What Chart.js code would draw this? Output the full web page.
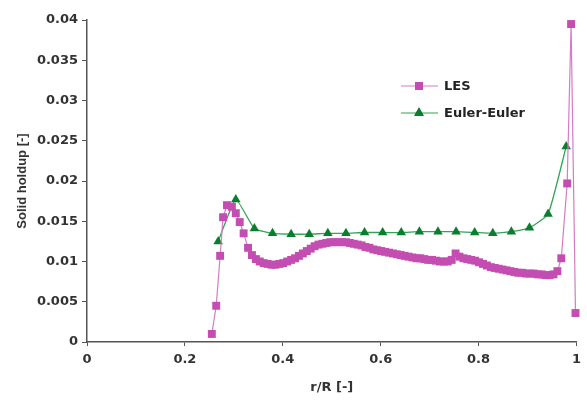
<!DOCTYPE html>
<html lang="en">
<head>
    <meta charset="UTF-8">
    <title>Solid holdup profile</title>
    <script src="https://cdn.jsdelivr.net/npm/chart.js"></script>
    <style>
        html, body {
            margin: 0;
            padding: 0;
            background: #fff;
        }
        #wrap {
            width: 587px;
            height: 403px;
        }
    </style>
</head>
<body>
<div id="wrap"><canvas id="holdupChart" width="587" height="403"></canvas></div>

<script>
    // LES profile (r/R, solid holdup)
    const lesR = [0.255, 0.264, 0.272, 0.278, 0.286, 0.296, 0.304, 0.312, 0.320, 0.329, 0.337,
        0.345, 0.353, 0.361, 0.369, 0.377, 0.385, 0.393, 0.401, 0.409, 0.417, 0.425, 0.433,
        0.441, 0.449, 0.457, 0.465, 0.473, 0.481, 0.489, 0.497, 0.505, 0.513, 0.521, 0.529,
        0.537, 0.545, 0.553, 0.561, 0.569, 0.577, 0.585, 0.593, 0.601, 0.609, 0.617, 0.625,
        0.633, 0.641, 0.649, 0.657, 0.665, 0.673, 0.681, 0.689, 0.697, 0.705, 0.713, 0.721,
        0.729, 0.737, 0.745, 0.753, 0.761, 0.769, 0.777, 0.785, 0.793, 0.801, 0.809, 0.817,
        0.825, 0.833, 0.841, 0.849, 0.857, 0.865, 0.873, 0.881, 0.889, 0.897, 0.905, 0.913,
        0.921, 0.929, 0.937, 0.945, 0.953, 0.961, 0.969, 0.981, 0.989, 0.998];
    const lesHoldup = [0.0010, 0.0045, 0.0107, 0.0155, 0.0170, 0.0168, 0.0160, 0.0149, 0.0135, 0.0117, 0.0108,
        0.0103, 0.0100, 0.0098, 0.0097, 0.0096, 0.0096, 0.0097, 0.0098, 0.0100, 0.0102, 0.0104, 0.0107,
        0.0110, 0.0113, 0.0116, 0.0119, 0.0121, 0.0122, 0.0123, 0.0124, 0.0124, 0.0124, 0.0124, 0.0124,
        0.0123, 0.0122, 0.0121, 0.0120, 0.0118, 0.0117, 0.0115, 0.0114, 0.0113, 0.0112, 0.0111, 0.0110,
        0.0109, 0.0108, 0.0107, 0.0106, 0.0105, 0.0104, 0.0104, 0.0103, 0.0102, 0.0102, 0.0101, 0.0100,
        0.0100, 0.0100, 0.0102, 0.0110, 0.0106, 0.0104, 0.0103, 0.0102, 0.0101, 0.0099, 0.0097, 0.0095,
        0.0093, 0.0092, 0.0091, 0.0090, 0.0089, 0.0088, 0.0087, 0.0086, 0.0086, 0.0085, 0.0085, 0.0085,
        0.0084, 0.0084, 0.0083, 0.0083, 0.0084, 0.0088, 0.0104, 0.0197, 0.0395, 0.0036];

    // Euler-Euler profile
    const eulerR = [0.268, 0.304, 0.342, 0.379, 0.417, 0.454, 0.492, 0.529, 0.567, 0.604,
        0.642, 0.679, 0.717, 0.754, 0.792, 0.829, 0.867, 0.904, 0.942, 0.979];
    const eulerHoldup = [0.0125, 0.0177, 0.0141, 0.0135, 0.0134, 0.0134, 0.0135, 0.0135, 0.0136, 0.0136,
        0.0136, 0.0137, 0.0137, 0.0137, 0.0136, 0.0135, 0.0137, 0.0142, 0.0159, 0.0243];

    const xTickLabels = ['0', '0.2', '0.4', '0.6', '0.8', '1'];
    const yTickLabels = ['0', '0.005', '0.01', '0.015', '0.02', '0.025', '0.03', '0.035', '0.04'];
    const seriesNames = ['LES', 'Euler-Euler'];

    const lesColor = '#C44DB2';
    const lesLine = '#D47CC6';
    const eulerColor = '#0B7D2E';
    const eulerLine = '#35A257';
    const axisColor = '#555555';
    const textColor = '#333333';

    const toPoints = (xs, ys) => xs.map((x, i) => ({ x: x, y: ys[i] }));

    // legend drawn inside the plot, like the original figure
    const insideLegend = {
        id: 'insideLegend',
        afterDraw(chart) {
            const ctx = chart.ctx;
            const rows = [
                { ds: chart.data.datasets[0], y: 86 },
                { ds: chart.data.datasets[1], y: 113 }
            ];
            ctx.save();
            rows.forEach(row => {
                ctx.strokeStyle = row.ds.borderColor;
                ctx.lineWidth = 1.2;
                ctx.beginPath();
                ctx.moveTo(401, row.y);
                ctx.lineTo(438, row.y);
                ctx.stroke();
                Chart.helpers.drawPoint(ctx, {
                    pointStyle: row.ds.pointStyle,
                    radius: row.ds.pointRadius,
                    rotation: 0,
                    borderWidth: 0
                }, 419, row.y);
                ctx.fillStyle = row.ds.pointBackgroundColor;
                ctx.fill();
                ctx.fillStyle = '#222';
                ctx.font = 'bold 13px "DejaVu Sans"';
                ctx.textBaseline = 'middle';
                ctx.textAlign = 'left';
                ctx.fillText(row.ds.label, 444, row.y + 1);
            });
            ctx.restore();
        }
    };

    const ctx = document.getElementById('holdupChart').getContext('2d');
    new Chart(ctx, {
        type: 'scatter',
        data: {
            datasets: [{
                label: seriesNames[0],
                data: toPoints(lesR, lesHoldup),
                showLine: true,
                borderColor: lesLine,
                borderWidth: 1.2,
                pointStyle: 'rect',
                pointRadius: 5.6,
                pointBackgroundColor: lesColor,
                pointBorderColor: lesColor,
                pointBorderWidth: 0,
                tension: 0,
                clip: false
            }, {
                label: seriesNames[1],
                data: toPoints(eulerR, eulerHoldup),
                showLine: true,
                borderColor: eulerLine,
                borderWidth: 1.3,
                pointStyle: 'triangle',
                pointRadius: 5.5,
                pointBackgroundColor: eulerColor,
                pointBorderColor: eulerColor,
                pointBorderWidth: 0,
                tension: 0.15,
                clip: false
            }]
        },
        options: {
            responsive: false,
            animation: false,
            layout: {
                padding: { top: 20, right: 6, left: 0, bottom: 0 }
            },
            plugins: {
                legend: { display: false },
                tooltip: { enabled: false }
            },
            scales: {
                x: {
                    type: 'linear',
                    min: 0,
                    max: 1,
                    afterFit: scale => { scale.height = 61; },
                    afterBuildTicks: scale => {
                        scale.ticks = xTickLabels.map(t => ({ value: parseFloat(t) }));
                    },
                    ticks: {
                        callback: (value, index) => xTickLabels[index],
                        color: textColor,
                        font: { family: '"DejaVu Sans"', size: 13, weight: 'bold' },
                        padding: 6,
                        maxRotation: 0
                    },
                    grid: {
                        drawOnChartArea: false,
                        drawTicks: true,
                        tickLength: 4,
                        color: axisColor
                    },
                    border: { color: axisColor, width: 1.5 },
                    title: {
                        display: true,
                        text: 'r/R [-]',
                        color: textColor,
                        font: { family: '"DejaVu Sans"', size: 13, weight: 'bold' },
                        padding: { top: 0, bottom: 8 }
                    }
                },
                y: {
                    type: 'linear',
                    min: 0,
                    max: 0.04,
                    afterFit: scale => { scale.width = 87; },
                    afterBuildTicks: scale => {
                        scale.ticks = yTickLabels.map(t => ({ value: parseFloat(t) }));
                    },
                    ticks: {
                        callback: (value, index) => yTickLabels[index],
                        color: textColor,
                        font: { family: '"DejaVu Sans"', size: 13, weight: 'bold' },
                        padding: 4
                    },
                    grid: {
                        drawOnChartArea: false,
                        drawTicks: true,
                        tickLength: 5,
                        color: axisColor
                    },
                    border: { color: axisColor, width: 1.5 },
                    title: {
                        display: true,
                        text: 'Solid holdup [-]',
                        color: textColor,
                        font: { family: '"Liberation Sans"', size: 13, weight: 'bold' },
                        padding: { top: 15, bottom: 0 }
                    }
                }
            }
        },
        plugins: [insideLegend]
    });
</script>
</body>
</html>
